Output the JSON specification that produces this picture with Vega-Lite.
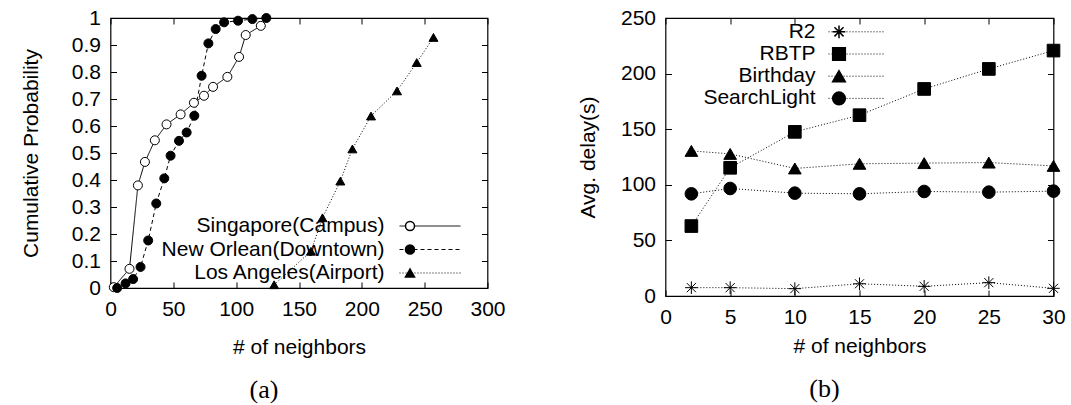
{
  "$schema": "https://vega.github.io/schema/vega-lite/v6.json",
  "padding": {"left": 19.5, "top": 6, "right": 5, "bottom": 0},
  "bounds": "flush",
  "spacing": 178,
  "config": {
    "font": "Liberation Sans",
    "view": {"stroke": "black", "strokeWidth": 1.2},
    "axis": {
      "labelFont": "Liberation Sans", "labelFontSize": 21, "labelColor": "black",
      "titleFont": "Liberation Sans", "titleFontSize": 21, "titleFontWeight": "normal", "titleColor": "black",
      "domain": false, "grid": false, "tickColor": "black", "tickSize": -6, "tickWidth": 1,
      "labelPadding": 16, "format": "~r", "labelFlush": false, "labelOverlap": false
    },
    "axisX": {"titlePadding": 8},
    "legend": {"labelFont": "Liberation Sans", "labelFontSize": 21, "labelColor": "black", "padding": 0, "title": null,
               "labelAlign": "right", "labelBaseline": "middle", "labelLimit": 400}
  },
  "resolve": {"scale": {"shape": "independent", "strokeDash": "independent", "fill": "independent"}, "legend": {"shape": "independent", "strokeDash": "independent", "fill": "independent"}},
  "hconcat": [
    {
      "width": 377, "height": 270,
      "title": {"text": "(a)", "orient": "bottom", "font": "Liberation Serif", "fontSize": 26, "fontWeight": "normal", "color": "black", "dx": -35, "offset": 20},
      "data": {"values": [
        {"x": 2.6, "y": 0.003, "s": "Singapore(Campus)"},
        {"x": 15.1, "y": 0.071, "s": "Singapore(Campus)"},
        {"x": 21.8, "y": 0.38, "s": "Singapore(Campus)"},
        {"x": 27.4, "y": 0.467, "s": "Singapore(Campus)"},
        {"x": 35.3, "y": 0.547, "s": "Singapore(Campus)"},
        {"x": 44.6, "y": 0.606, "s": "Singapore(Campus)"},
        {"x": 55.8, "y": 0.643, "s": "Singapore(Campus)"},
        {"x": 66.4, "y": 0.686, "s": "Singapore(Campus)"},
        {"x": 74.4, "y": 0.712, "s": "Singapore(Campus)"},
        {"x": 81.6, "y": 0.745, "s": "Singapore(Campus)"},
        {"x": 93, "y": 0.782, "s": "Singapore(Campus)"},
        {"x": 102.3, "y": 0.856, "s": "Singapore(Campus)"},
        {"x": 107.6, "y": 0.937, "s": "Singapore(Campus)"},
        {"x": 119.6, "y": 0.971, "s": "Singapore(Campus)"},
        {"x": 5.3, "y": 0.0, "s": "New Orlean(Downtown)"},
        {"x": 12, "y": 0.017, "s": "New Orlean(Downtown)"},
        {"x": 18, "y": 0.033, "s": "New Orlean(Downtown)"},
        {"x": 23.9, "y": 0.078, "s": "New Orlean(Downtown)"},
        {"x": 30, "y": 0.176, "s": "New Orlean(Downtown)"},
        {"x": 36.4, "y": 0.313, "s": "New Orlean(Downtown)"},
        {"x": 42.8, "y": 0.406, "s": "New Orlean(Downtown)"},
        {"x": 47.8, "y": 0.49, "s": "New Orlean(Downtown)"},
        {"x": 54.5, "y": 0.545, "s": "New Orlean(Downtown)"},
        {"x": 60.6, "y": 0.576, "s": "New Orlean(Downtown)"},
        {"x": 66.7, "y": 0.638, "s": "New Orlean(Downtown)"},
        {"x": 72.5, "y": 0.786, "s": "New Orlean(Downtown)"},
        {"x": 77.9, "y": 0.906, "s": "New Orlean(Downtown)"},
        {"x": 83.7, "y": 0.959, "s": "New Orlean(Downtown)"},
        {"x": 90.4, "y": 0.984, "s": "New Orlean(Downtown)"},
        {"x": 101.5, "y": 0.99, "s": "New Orlean(Downtown)"},
        {"x": 112.9, "y": 0.996, "s": "New Orlean(Downtown)"},
        {"x": 124, "y": 1.0, "s": "New Orlean(Downtown)"},
        {"x": 130.2, "y": 0.012, "s": "Los Angeles(Airport)"},
        {"x": 159.5, "y": 0.136, "s": "Los Angeles(Airport)"},
        {"x": 168.7, "y": 0.26, "s": "Los Angeles(Airport)"},
        {"x": 182.9, "y": 0.396, "s": "Los Angeles(Airport)"},
        {"x": 192.5, "y": 0.515, "s": "Los Angeles(Airport)"},
        {"x": 207.3, "y": 0.637, "s": "Los Angeles(Airport)"},
        {"x": 228, "y": 0.73, "s": "Los Angeles(Airport)"},
        {"x": 243.7, "y": 0.835, "s": "Los Angeles(Airport)"},
        {"x": 257, "y": 0.928, "s": "Los Angeles(Airport)"}
      ]},
      "layer": [
        {
          "mark": {"type": "line", "color": "black", "strokeWidth": 1},
          "encoding": {
            "x": {"field": "x", "type": "quantitative", "scale": {"domain": [0, 300], "nice": false},
                  "axis": {"orient": "top", "labels": false, "title": null, "values": [0, 50, 100, 150, 200, 250, 300]}},
            "y": {"field": "y", "type": "quantitative", "scale": {"domain": [0, 1], "nice": false},
                  "axis": {"orient": "right", "labels": false, "title": null, "values": [0, 0.1, 0.2, 0.3, 0.4, 0.5, 0.6, 0.7, 0.8, 0.9, 1]}},
            "strokeDash": {"field": "s", "type": "nominal",
              "scale": {"domain": ["Singapore(Campus)", "New Orlean(Downtown)", "Los Angeles(Airport)"], "range": [[1, 0], [4, 3], [1, 2]]},
              "legend": {"orient": "none", "legendX": 289, "legendY": 197.5, "symbolType": "stroke", "symbolSize": 3721,
                         "symbolStrokeWidth": 1, "symbolStrokeColor": "black", "rowPadding": 1.5,
                         "encode": {"symbols": {"update": {"x": {"value": 30.5}, "y": {"value": 10.5}}},
                                    "labels": {"update": {"x": {"value": -15}, "y": {"value": 10.5}}}}}}
          }
        },
        {
          "mark": {"type": "point", "filled": true, "stroke": "black", "strokeWidth": 1, "opacity": 1, "size": 81},
          "encoding": {
            "x": {"field": "x", "type": "quantitative", "axis": {"title": "# of neighbors", "titlePadding": 17, "values": [0, 50, 100, 150, 200, 250, 300]}},
            "y": {"field": "y", "type": "quantitative", "axis": {"title": "Cumulative Probability", "titlePadding": 30, "values": [0, 0.1, 0.2, 0.3, 0.4, 0.5, 0.6, 0.7, 0.8, 0.9, 1]}},
            "shape": {"field": "s", "type": "nominal", "sort": "descending",
              "scale": {"range": ["circle", "circle", "triangle-up"]},
              "legend": {"orient": "none", "legendX": 289, "legendY": 197.5, "symbolSize": 81, "labelOpacity": 0, "rowPadding": 1.5,
                         "labelExpr": "' '",
                         "encode": {"symbols": {"update": {"x": {"value": 30.5}, "y": {"value": 10.5}, "stroke": {"value": "black"}, "strokeWidth": {"value": 1},
                                                            "fill": {"signal": "datum.value === 'Singapore(Campus)' ? 'white' : 'black'"}}},
                                    "labels": {"update": {"x": {"value": -15}, "y": {"value": 10.5}}}}}},
            "fill": {"field": "s", "type": "nominal", "sort": "descending",
              "scale": {"range": ["white", "black", "black"]}, "legend": null}
          }
        }
      ],
      "resolve": {"axis": {"x": "independent", "y": "independent"}}
    },
    {
      "width": 388, "height": 278,
      "title": {"text": "(b)", "orient": "bottom", "font": "Liberation Serif", "fontSize": 26, "fontWeight": "normal", "color": "black", "dx": -35, "offset": 20},
      "data": {"values": [
        {"n": 2, "d": 7.5, "m": "R2"}, {"n": 5, "d": 7.5, "m": "R2"}, {"n": 10, "d": 6.6, "m": "R2"}, {"n": 15, "d": 11, "m": "R2"},
        {"n": 20, "d": 8.7, "m": "R2"}, {"n": 25, "d": 12, "m": "R2"}, {"n": 30, "d": 6.9, "m": "R2"},
        {"n": 2, "d": 62.9, "m": "RBTP"}, {"n": 5, "d": 115.3, "m": "RBTP"}, {"n": 10, "d": 147.6, "m": "RBTP"}, {"n": 15, "d": 162.6, "m": "RBTP"},
        {"n": 20, "d": 186.2, "m": "RBTP"}, {"n": 25, "d": 204.2, "m": "RBTP"}, {"n": 30, "d": 220.7, "m": "RBTP"},
        {"n": 2, "d": 130.5, "m": "Birthday"}, {"n": 5, "d": 127.8, "m": "Birthday"}, {"n": 10, "d": 114.7, "m": "Birthday"}, {"n": 15, "d": 118.9, "m": "Birthday"},
        {"n": 20, "d": 119.5, "m": "Birthday"}, {"n": 25, "d": 120, "m": "Birthday"}, {"n": 30, "d": 117, "m": "Birthday"},
        {"n": 2, "d": 91.9, "m": "SearchLight"}, {"n": 5, "d": 96.7, "m": "SearchLight"}, {"n": 10, "d": 92.5, "m": "SearchLight"}, {"n": 15, "d": 91.9, "m": "SearchLight"},
        {"n": 20, "d": 94, "m": "SearchLight"}, {"n": 25, "d": 93.4, "m": "SearchLight"}, {"n": 30, "d": 94.3, "m": "SearchLight"}
      ]},
      "layer": [
        {
          "mark": {"type": "line", "color": "black", "strokeWidth": 1},
          "encoding": {
            "x": {"field": "n", "type": "quantitative", "scale": {"domain": [0, 30], "nice": false},
                  "axis": {"orient": "top", "labels": false, "title": null, "values": [0, 5, 10, 15, 20, 25, 30]}},
            "y": {"field": "d", "type": "quantitative", "scale": {"domain": [0, 250], "nice": false},
                  "axis": {"orient": "right", "labels": false, "title": null, "values": [0, 50, 100, 150, 200, 250]}},
            "strokeDash": {"field": "m", "type": "nominal",
              "scale": {"domain": ["R2", "RBTP", "Birthday", "SearchLight"], "range": [[1, 2], [1, 2], [1, 2], [1, 2]]},
              "legend": {"orient": "none", "legendX": 163, "legendY": 3.3, "symbolType": "stroke", "symbolSize": 3249,
                         "symbolStrokeWidth": 1, "symbolStrokeColor": "black", "rowPadding": 0.2,
                         "encode": {"symbols": {"update": {"x": {"value": 28.5}, "y": {"value": 10.5}}},
                                    "labels": {"update": {"x": {"value": -13}, "y": {"value": 10.5}}}}}}
          }
        },
        {
          "mark": {"type": "point", "filled": true, "fill": "black", "stroke": "black", "strokeWidth": 1, "opacity": 1, "size": 160},
          "encoding": {
            "x": {"field": "n", "type": "quantitative", "axis": {"title": "# of neighbors", "values": [0, 5, 10, 15, 20, 25, 30]}},
            "y": {"field": "d", "type": "quantitative", "axis": {"title": "Avg. delay(s)", "titlePadding": 22, "values": [0, 50, 100, 150, 200, 250]}},
            "shape": {"field": "m", "type": "nominal", "sort": ["R2", "RBTP", "Birthday", "SearchLight"],
              "scale": {"range": ["M-1,0H1M0,-1V1M-0.72,-0.72L0.72,0.72M-0.72,0.72L0.72,-0.72", "square", "triangle-up", "circle"]},
              "legend": {"orient": "none", "legendX": 163, "legendY": 3.3, "symbolSize": 160, "labelOpacity": 0, "rowPadding": 0.2,
                         "labelExpr": "' '",
                         "encode": {"symbols": {"update": {"x": {"value": 28.5}, "y": {"value": 10.5}, "stroke": {"value": "black"},
                                                            "strokeWidth": {"value": 1}, "fill": {"value": "black"}}},
                                    "labels": {"update": {"x": {"value": -13}, "y": {"value": 10.5}}}}}}
          }
        }
      ],
      "resolve": {"axis": {"x": "independent", "y": "independent"}}
    }
  ]
}
